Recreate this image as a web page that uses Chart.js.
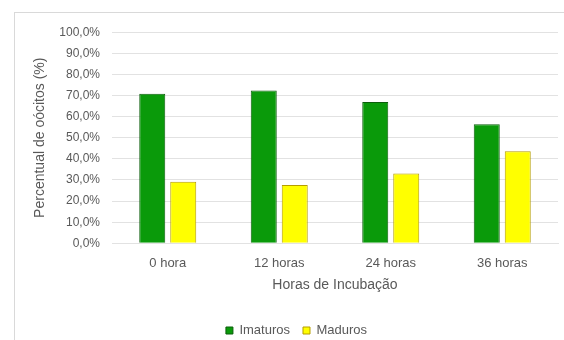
<!DOCTYPE html>
<html lang="pt">
<head>
<meta charset="utf-8">
<title>Oócitos por horas de incubação</title>
<script src="https://cdn.jsdelivr.net/npm/chart.js@4.4.1/dist/chart.umd.min.js"></script>
<style>
    html, body { margin: 0; padding: 0; background: #fff; }
    body { width: 564px; height: 340px; overflow: hidden; position: relative; }
    #frame {
        position: absolute; left: 14px; top: 12px;
        width: 560px; height: 340px;
        border-left: 1px solid #d9d9d9; border-top: 1px solid #d9d9d9;
    }
    #wrap { position: absolute; left: 0; top: 0; width: 549px; height: 327px; }
</style>
</head>
<body>
<div id="frame"><div id="wrap"><canvas id="oocitosChart"></canvas></div></div>
<script>
// Percentual de oócitos imaturos e maduros por tempo de incubação
const categorias = ['0 hora', '12 horas', '24 horas', '36 horas'];
const imaturos = [70.9, 72.4, 66.9, 56.4];
const maduros = [29.1, 27.6, 33.1, 43.6];
const rotulosY = ['0,0%', '10,0%', '20,0%', '30,0%', '40,0%', '50,0%',
                  '60,0%', '70,0%', '80,0%', '90,0%', '100,0%'];

const corTexto = '#595959';
const corGrade = '#e2e2e2';
const fonte = 'Liberation Sans';

// Keeps the legend box at a fixed height so the plot area stays put
const legendaFixa = {
    id: 'legendaFixa',
    afterInit: function(chart) {
        const fitOriginal = chart.legend.fit;
        chart.legend.fit = function() {
            fitOriginal.call(this);
            this.height = 29;
        };
    }
};

document.addEventListener('DOMContentLoaded', function() {
    const ctx = document.getElementById('oocitosChart');

    new Chart(ctx, {
        type: 'bar',
        data: {
            labels: categorias,
            datasets: [{
                label: 'Imaturos',
                data: imaturos,
                backgroundColor: '#0a9a0a',
                borderColor: '#0b5e0b',
                borderWidth: 1
            }, {
                label: 'Maduros',
                data: maduros,
                backgroundColor: '#ffff00',
                borderColor: '#b59d00',
                borderWidth: 1
            }]
        },
        options: {
            responsive: true,
            maintainAspectRatio: false,
            animation: false,
            categoryPercentage: 0.556,
            barPercentage: 0.839,
            layout: { padding: { top: 17, right: 6, left: 20, bottom: 0 } },
            scales: {
                x: {
                    afterFit: function(scale) { scale.height = 67.7; },
                    grid: { display: false, drawTicks: false },
                    border: { display: true, color: corGrade },
                    ticks: {
                        color: corTexto,
                        padding: 12,
                        font: { family: fonte, size: 13 }
                    },
                    title: {
                        display: true,
                        text: 'Horas de Incubação',
                        color: corTexto,
                        padding: { top: 0, bottom: 17.6 },
                        font: { family: fonte, size: 14 }
                    }
                },
                y: {
                    min: 0,
                    max: 100,
                    afterFit: function(scale) { scale.width = 77; },
                    grid: { color: corGrade, drawTicks: false },
                    border: { display: false },
                    ticks: {
                        stepSize: 10,
                        padding: 12,
                        color: corTexto,
                        font: { family: fonte, size: 12 },
                        callback: function(value, index) { return rotulosY[index]; }
                    },
                    title: {
                        display: true,
                        text: 'Percentual de oócitos (%)',
                        color: corTexto,
                        padding: { top: -3, bottom: 0 },
                        font: { family: fonte, size: 14 }
                    }
                }
            },
            plugins: {
                legend: {
                    position: 'bottom',
                    labels: {
                        boxWidth: 7,
                        boxHeight: 7,
                        padding: 13,
                        color: corTexto,
                        font: { family: fonte, size: 13 }
                    }
                },
                tooltip: { enabled: false }
            }
        },
        plugins: [legendaFixa]
    });
});
</script>
</body>
</html>
